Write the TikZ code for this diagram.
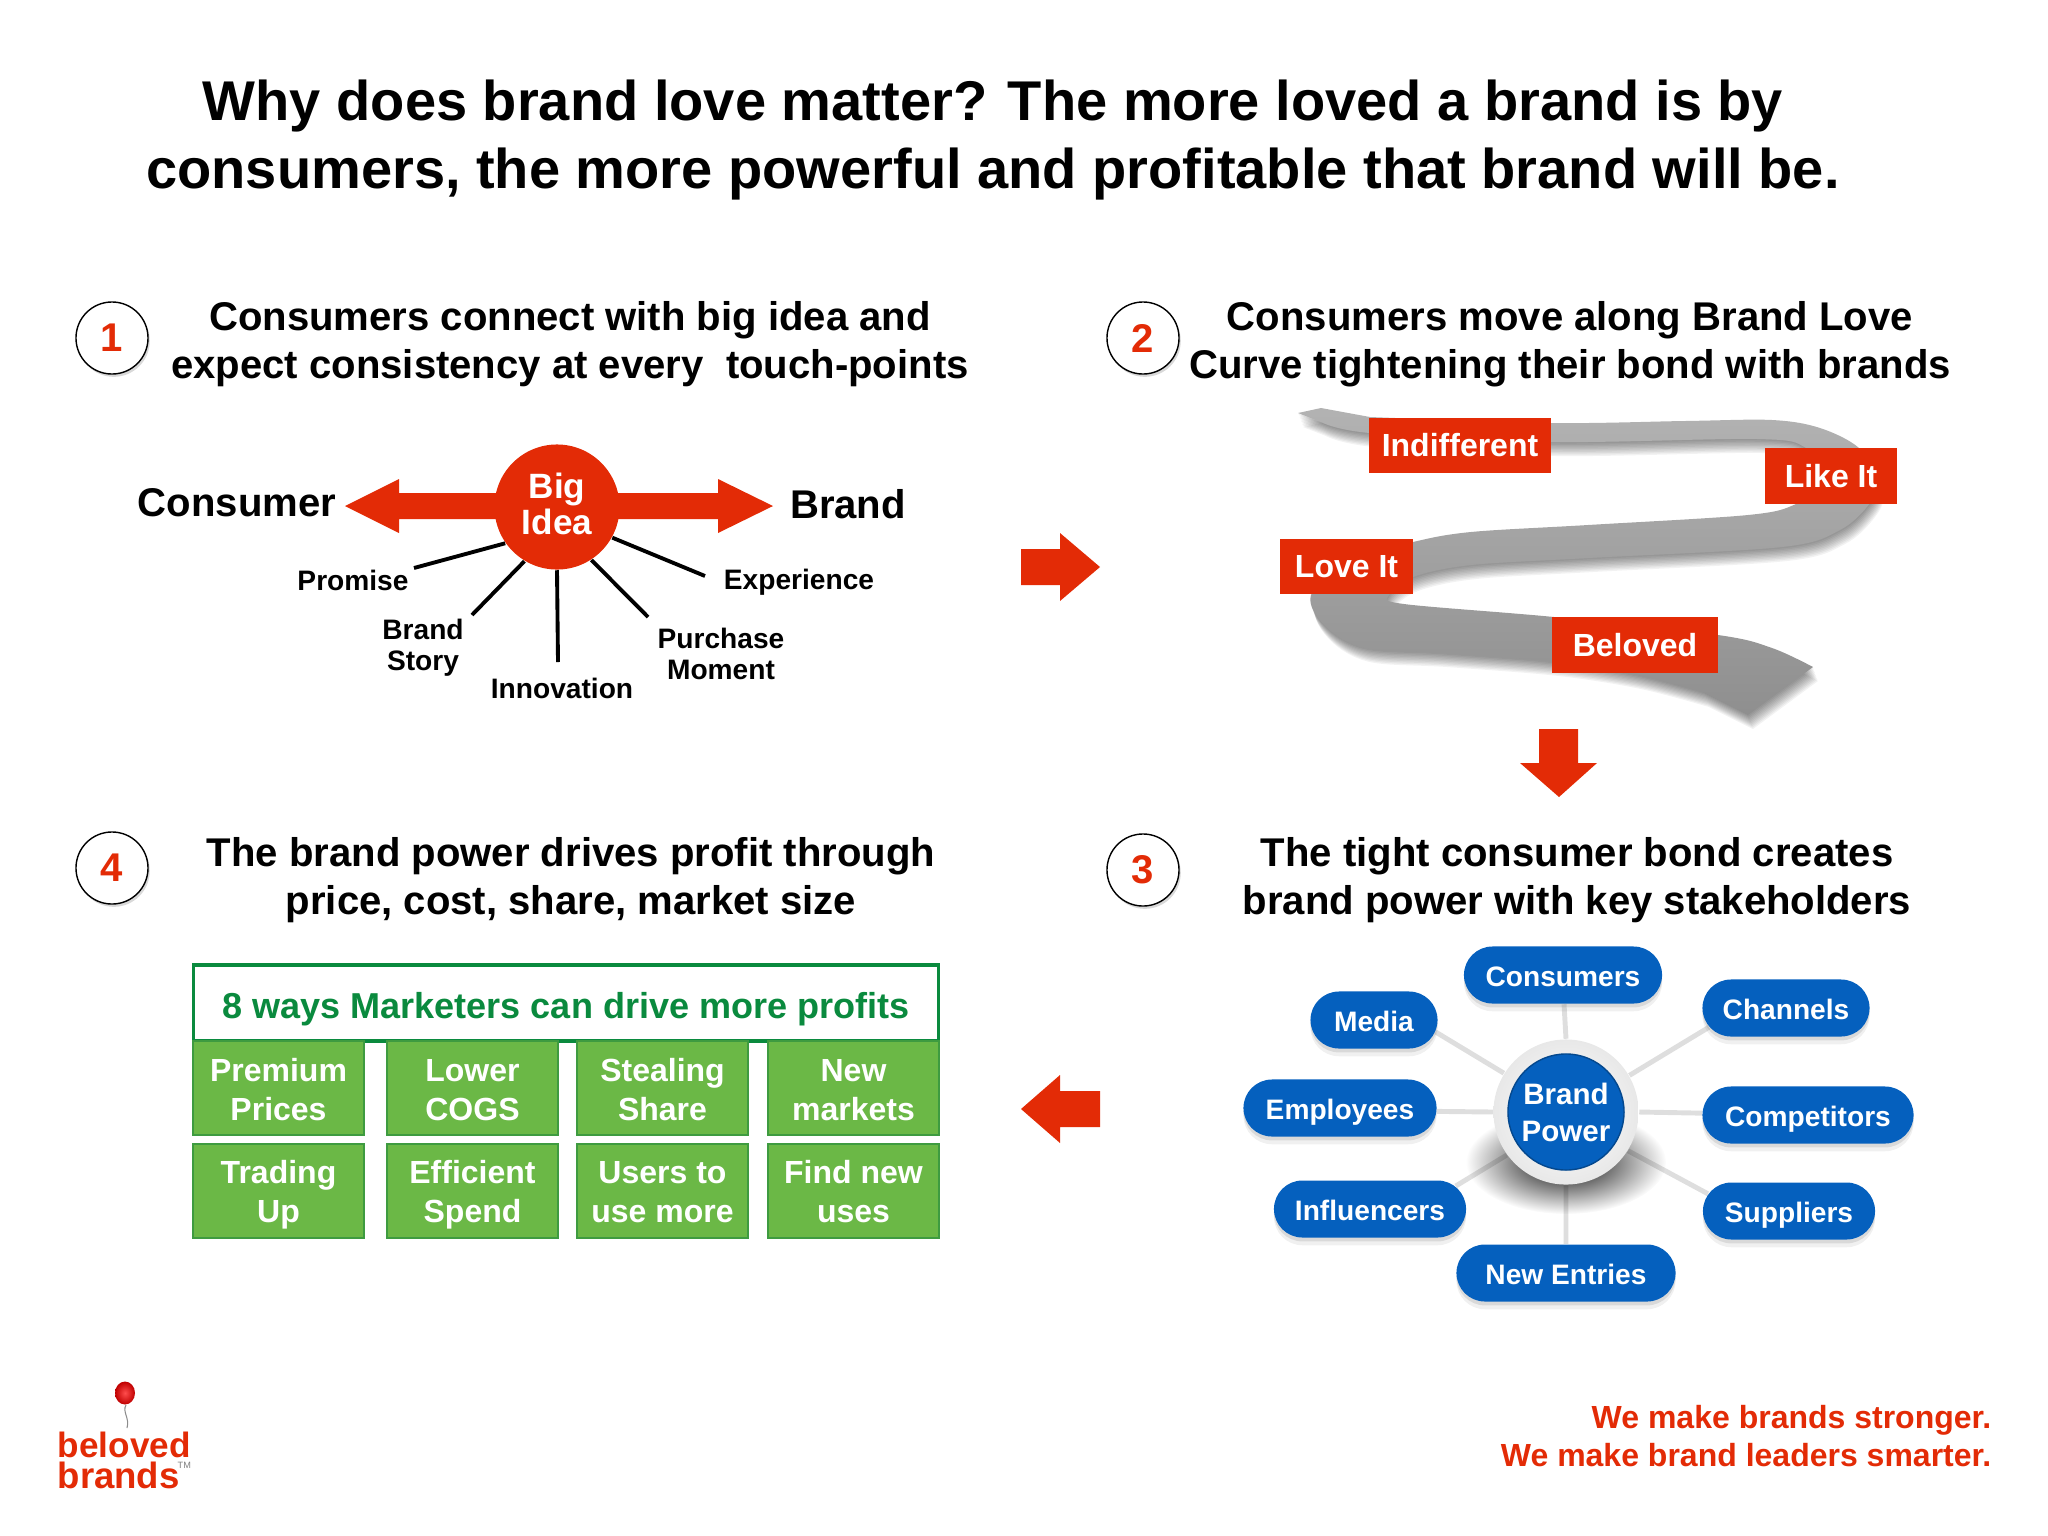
\documentclass[tikz,border=0pt]{standalone}
\usepackage{fontspec}
\setmainfont{Liberation Sans}
\usetikzlibrary{positioning}
\usetikzlibrary{shapes.misc}
\usetikzlibrary{shadows, fadings, backgrounds}

\definecolor{brandred}{HTML}{E32B06}
\definecolor{powerblue}{HTML}{0560BE}
\definecolor{leafgreen}{HTML}{6BB846}
\definecolor{darkgreen}{HTML}{0A8A3E}
\definecolor{edgegreen}{HTML}{3E9B40}

\tikzfading[name=softglow, inner color=transparent!0, outer color=transparent!100]

\tikzset{
  titletext/.style={font=\fontsize{15.93}{19.1}\selectfont\bfseries,align=center,text=black},
  headtext/.style={font=\fontsize{11.4}{13.66}\selectfont\bfseries,align=center,text=black},
  sidetext/.style={font=\fontsize{11.4}{13.66}\selectfont\bfseries,text=black},
  spoketext/.style={font=\fontsize{8}{8.9}\selectfont\bfseries,align=center,text=black},
  stepdisc/.style={circle,draw=black,fill=white,line width=0.4pt,minimum size=0.72cm,inner sep=0pt,
    font=\fontsize{11.4}{13}\selectfont\bfseries,text=brandred,
    drop shadow={shadow xshift=0.5pt,shadow yshift=-0.8pt,opacity=.3}},
  curvetag/.style={fill=brandred,text=white,inner sep=0pt,font=\fontsize{9.1}{11}\selectfont\bfseries},
  pill/.style={rounded rectangle,fill=powerblue,text=white,minimum height=0.57cm,inner sep=0pt,
    text height=6.5pt,text depth=0pt,font=\fontsize{8}{10}\selectfont\bfseries,
    drop shadow={shadow xshift=0pt,shadow yshift=-2.2pt,opacity=.12},
    drop shadow={shadow xshift=0pt,shadow yshift=-1.1pt,opacity=.2}},
  spoke/.style={draw=black!13,line width=1.4pt},
  ideaspoke/.style={draw=black,line width=1.1pt},
  tile/.style={fill=leafgreen,draw=edgegreen,line width=0.4pt,minimum width=1.71cm,minimum height=0.94cm,inner sep=0pt},
  tiletext/.style={text=white,inner sep=0pt,align=center,anchor=base,font=\fontsize{9.1}{10.9}\selectfont\bfseries},
}

\def\ribbonpath{(1298,413) -- (1321,408) -- plot[smooth,tension=.55] coordinates {(1370,417) (1551,423) (1685,421) (1772,420) (1820,428) (1859,448) (1878,480) (1870,503) (1840,530) (1782,547) (1588,558) (1471,565) (1413,577) (1389,595) (1404,604) (1554,617) (1718,635) (1772,648) (1813,667)}
  -- (1748,715) -- plot[smooth,tension=.55] coordinates {(1704,693) (1636,675) (1554,662) (1442,653) (1365,648) (1326,627) (1311,595) (1350,560) (1413,542) (1471,532) (1588,525) (1748,515) (1796,504) (1830,480) (1806,448) (1757,439) (1551,442) (1370,433) (1321,422)} -- cycle}

\begin{document}
\begin{tikzpicture}[x=0.01cm,y=-0.01cm]
\useasboundingbox (0,0) rectangle (2048,1536);

\node[titletext] (title) at (993,140) {Why does brand love matter? The more loved a brand is by\\consumers, the more powerful and profitable that brand will be.};

% panel 1
\node[stepdisc] (disc1) at (112,338) {1};
\node[headtext] (head1) at (570,344) {Consumers connect with big idea and\\expect consistency at every\ \ touch-points};
\fill[brandred] (345,506) -- (399,479) -- (399,493) -- (718,493) -- (718,479) -- (773,506) -- (718,533) -- (718,519) -- (399,519) -- (399,533) -- cycle;
\node[circle,fill=brandred,minimum size=1.25cm,inner sep=0pt] (bigidea) at (557,507) {};
\node[text=white,inner sep=0pt,align=center,font=\fontsize{10}{10.4}\selectfont\bfseries] (ideatext) at (557,504) {Big\\Idea};
\node[sidetext] (consumer) at (237,503) {Consumer};
\node[sidetext] (brand) at (848,504) {Brand};
\node[spoketext] (promise) at (353,580) {Promise};
\node[spoketext] (story) at (423,647.5) {Brand\\Story};
\node[spoketext] (innovation) at (562,688) {Innovation};
\node[spoketext] (purchase) at (721,654) {Purchase\\Moment};
\node[spoketext] (experience) at (799,582) {Experience};
\coordinate (promiseend) at (414,568);
\coordinate (storyend) at (472,615);
\coordinate (innovationend) at (558,662);
\coordinate (purchaseend) at (648,617);
\coordinate (experienceend) at (705,576);
\draw[ideaspoke] (bigidea.215) -- (promiseend);
\draw[ideaspoke] (bigidea.239) -- (storyend);
\draw[ideaspoke] (bigidea.270) -- (innovationend);
\draw[ideaspoke] (bigidea.303) -- (purchaseend);
\draw[ideaspoke] (bigidea.331) -- (experienceend);

% panel 2
\node[stepdisc] (disc2) at (1143,338) {2};
\node[headtext] (head2) at (1570,344) {Consumers move along Brand Love\\Curve tightening their bond with brands};
\foreach \d in {1,...,10}{
  \fill[black,opacity=.05,shift={(\d*0.5,\d*1.4)}] \ribbonpath;
}
\shade[top color=black!30,bottom color=black!44] \ribbonpath;
\node[curvetag,minimum width=1.82cm,minimum height=0.55cm] (indifferent) at (1460,445.5) {Indifferent};
\node[curvetag,minimum width=1.32cm,minimum height=0.56cm] (likeit) at (1831,476) {Like It};
\node[curvetag,minimum width=1.33cm,minimum height=0.55cm] (loveit) at (1346.5,566.5) {Love It};
\node[curvetag,minimum width=1.66cm,minimum height=0.56cm] (beloved) at (1635,645) {Beloved};

% panel 3
\node[stepdisc] (disc3) at (1143,870) {3};
\node[headtext] (head3) at (1577,880) {The tight consumer bond creates\\brand power with key stakeholders};
\node[pill,minimum width=1.98cm] (consumers) at (1563,975) {Consumers};
\node[pill,minimum width=1.67cm] (channels) at (1786,1008) {Channels};
\node[pill,minimum width=1.27cm] (media) at (1374,1020) {Media};
\node[pill,minimum width=1.93cm] (employees) at (1340,1108) {Employees};
\node[pill,minimum width=2.11cm] (competitors) at (1808,1115) {Competitors};
\node[pill,minimum width=1.92cm] (influencers) at (1370,1209) {Influencers};
\node[pill,minimum width=1.72cm] (suppliers) at (1789,1211) {Suppliers};
\node[pill,minimum width=2.19cm] (newentries) at (1566,1273) {New Entries};
\node[circle,inner color=white,outer color=black!9,minimum size=1.45cm,inner sep=0pt] (powerring) at (1566,1112) {};
\node[circle,fill=powerblue,draw=powerblue!75!black,line width=0.4pt,text=white,minimum size=1.16cm,inner sep=0pt,align=center,font=\fontsize{8.4}{10.5}\selectfont\bfseries] (power) at (1566,1112) {Brand\\Power};
\begin{pgfonlayer}{background}
\draw[spoke] (powerring.90) -- (consumers.-88);
\draw[spoke] (powerring.30) -- (channels.194);
\draw[spoke] (powerring.148) -- (media.-11);
\draw[spoke] (powerring.180) -- (employees.-2);
\draw[spoke] (powerring.0) -- (competitors.179);
\draw[spoke] (powerring.216) -- (influencers.15);
\draw[spoke] (powerring.-32) -- (suppliers.168);
\draw[spoke] (powerring.270) -- (newentries.90);
\fill[black,path fading=softglow] (1566,1162) ellipse [x radius=100, y radius=52];
\end{pgfonlayer}

% panel 4
\node[stepdisc] (disc4) at (112,868) {4};
\node[headtext] (head4) at (571,880) {The brand power drives profit through\\price, cost, share, market size};
\node[draw=darkgreen,fill=white,line width=0.9pt,minimum width=7.44cm,minimum height=0.76cm,inner sep=0pt,text=darkgreen,text height=8.6pt,text depth=0pt,font=\fontsize{10.25}{12}\selectfont\bfseries] (ways) at (566,1003) {8 ways Marketers can drive more profits};
\node[tile] (premium) at (278.5,1088) {};
\node[tile] (cogs) at (472.5,1088) {};
\node[tile] (stealing) at (662.5,1088) {};
\node[tile] (markets) at (853.5,1088) {};
\node[tile] (trading) at (278.5,1191) {};
\node[tile] (spend) at (472.5,1191) {};
\node[tile] (users) at (662.5,1191) {};
\node[tile] (uses) at (853.5,1191) {};
\node[tiletext] (premiumtext) at (278.5,1120) {Premium\\Prices};
\node[tiletext] (cogstext) at (472.5,1120) {Lower\\COGS};
\node[tiletext] (stealingtext) at (662.5,1120) {Stealing\\Share};
\node[tiletext] (marketstext) at (853.5,1120) {New\\markets};
\node[tiletext] (tradingtext) at (278.5,1222) {Trading\\Up};
\node[tiletext] (spendtext) at (472.5,1222) {Efficient\\Spend};
\node[tiletext] (userstext) at (662.5,1222) {Users to\\use more};
\node[tiletext] (usestext) at (853.5,1222) {Find new\\uses};

% arrows between panels
\fill[brandred] (1021,549) -- (1060,549) -- (1060,533) -- (1100,567) -- (1060,601) -- (1060,585) -- (1021,585) -- cycle;
\fill[brandred] (1539,729) -- (1578,729) -- (1578,763) -- (1597,763) -- (1559,797) -- (1520,763) -- (1539,763) -- cycle;
\fill[brandred] (1100,1091) -- (1060,1091) -- (1060,1075) -- (1021,1109) -- (1060,1143) -- (1060,1127) -- (1100,1127) -- cycle;

% logo and tag line
\draw[black!45,line width=0.3pt] (126,1405) .. controls (122,1412) and (130,1418) .. (127,1428);
\shade[inner color=red!70!white,outer color=red!75!black] (125,1393) ellipse [x radius=10, y radius=11.5];
\node[anchor=base west,inner sep=0pt,text=brandred,font=\fontsize{10}{10}\selectfont\bfseries] (beloved2) at (57,1457) {beloved};
\node[anchor=base west,inner sep=0pt,text=brandred,font=\fontsize{10.4}{10}\selectfont\bfseries] (brands2) at (57,1488) {brands};
\node[anchor=base west,inner sep=0pt,text=black!50,font=\fontsize{2.6}{3}\selectfont] (trademark) at (177,1468) {TM};
\node[anchor=east,inner sep=0pt,align=right,text=brandred,font=\fontsize{9.1}{10.6}\selectfont\bfseries] (tagline) at (1992,1436) {We make brands stronger.\\We make brand leaders smarter.};

\end{tikzpicture}
\end{document}
